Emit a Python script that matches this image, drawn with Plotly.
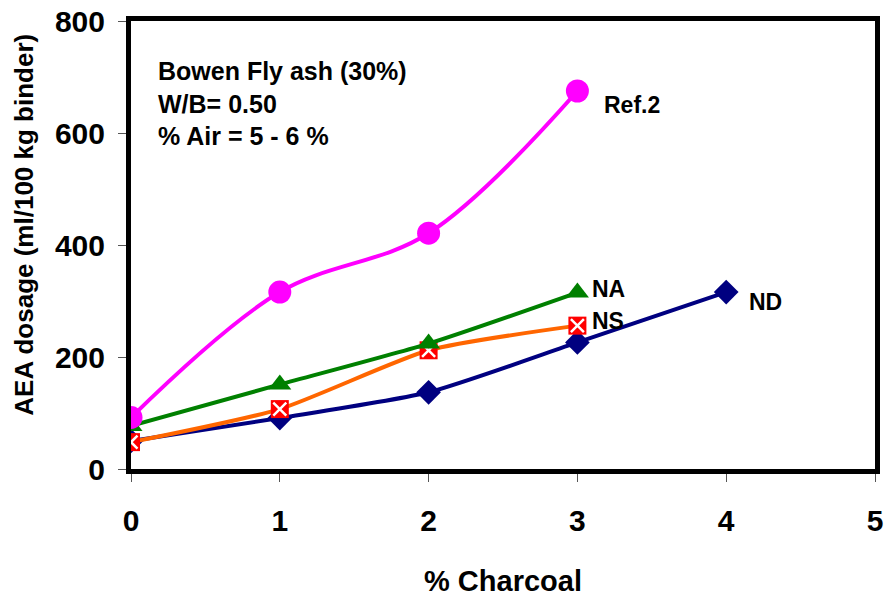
import plotly.graph_objects as go

x_ref2 = [0, 1, 2, 3]
y_ref2 = [92, 316, 421, 675]
x_na = [0, 1, 2, 3]
y_na = [77, 151, 224, 315]
x_ns = [0, 1, 2, 3]
y_ns = [48, 107, 212, 256]
x_nd = [0, 1, 2, 3, 4]
y_nd = [50, 91, 137, 226, 316]

x_ticks = [0, 1, 2, 3, 4, 5]
y_ticks = [0, 200, 400, 600, 800]

FONT = "Liberation Sans, Arial, sans-serif"
NARROW = "Liberation Sans Narrow, Arial Narrow, Liberation Sans, Arial, sans-serif"

fig = go.Figure()

fig.add_trace(go.Scatter(x=x_nd, y=y_nd, mode="lines+markers", name="ND",
                         line=dict(color="#000080", width=4, shape="spline", smoothing=0.6),
                         marker=dict(symbol="diamond", size=19, color="#000080")))
fig.add_trace(go.Scatter(x=x_ns, y=y_ns, mode="lines",
                         line=dict(color="#FF6600", width=4, shape="spline", smoothing=0.6),
                         showlegend=False, hoverinfo="skip"))
fig.add_trace(go.Scatter(x=x_ns, y=y_ns, mode="markers", name="NS",
                         marker=dict(symbol="square", size=18, color="#FF0000")))
fig.add_trace(go.Scatter(x=x_ns, y=y_ns, mode="markers", showlegend=False, hoverinfo="skip",
                         marker=dict(symbol="x-thin", size=13, color="white",
                                     line=dict(color="white", width=2.5))))
fig.add_trace(go.Scatter(x=x_na, y=y_na, mode="lines+markers", name="NA",
                         line=dict(color="#008000", width=4, shape="spline", smoothing=0.6),
                         marker=dict(symbol="triangle-up", size=20, color="#008000")))
fig.add_trace(go.Scatter(x=x_ref2, y=y_ref2, mode="lines+markers", name="Ref.2",
                         line=dict(color="#FF00FF", width=4, shape="spline", smoothing=1.0),
                         marker=dict(symbol="circle", size=23, color="#FF00FF")))

labels = [("Ref.2", 3.165, 650), ("NA", 3.085, 321), ("NS", 3.085, 264), ("ND", 4.14, 298)]
for t, lx, ly in labels:
    fig.add_annotation(x=lx, y=ly, text=t, showarrow=False, xanchor="left", yanchor="middle",
                       font=dict(family=FONT, size=23, color="black", weight="bold"))

fig.add_annotation(xref="paper", yref="paper", x=0.033, y=0.925, xanchor="left", yanchor="top",
                   align="left", showarrow=False,
                   text="Bowen Fly ash (30%)<br>W/B= 0.50<br>% Air = 5 - 6 %",
                   font=dict(family=FONT, size=25, color="black", weight="bold"))

# y-axis title as annotation for exact placement
fig.add_annotation(xref="paper", yref="paper", x=-0.144, y=0.545, xanchor="center",
                   yanchor="middle", textangle=-90, showarrow=False,
                   text="AEA dosage (ml/100 kg binder)",
                   font=dict(family=FONT, size=26, color="black", weight="bold"))

fig.update_layout(
    width=887, height=602,
    margin=dict(l=131, r=12, t=21, b=133),
    paper_bgcolor="white", plot_bgcolor="white",
    showlegend=False,
    font=dict(family=FONT, color="black"),
    xaxis=dict(range=[0, 5], tickvals=x_ticks, ticks="outside", ticklen=8, tickcolor="#555",
               showgrid=False, zeroline=False, showline=True, linecolor="black", linewidth=5,
               mirror=True, automargin=False, ticklabelstandoff=13,
               tickfont=dict(family=NARROW, size=30, weight="bold"),
               title=dict(text="% Charcoal", font=dict(size=29, weight="bold"), standoff=36)),
    yaxis=dict(range=[0, 800], tickvals=y_ticks, ticks="outside", ticklen=8, tickcolor="#555",
               showgrid=False, zeroline=False, showline=True, linecolor="black", linewidth=5,
               mirror=True, automargin=False, ticklabelstandoff=7,
               tickfont=dict(size=30, weight="bold")),
)

fig.write_html(
    "out.html",
    config={"displayModeBar": False},
    post_script="document.body.style.margin='0';document.body.style.overflow='hidden';",
)
